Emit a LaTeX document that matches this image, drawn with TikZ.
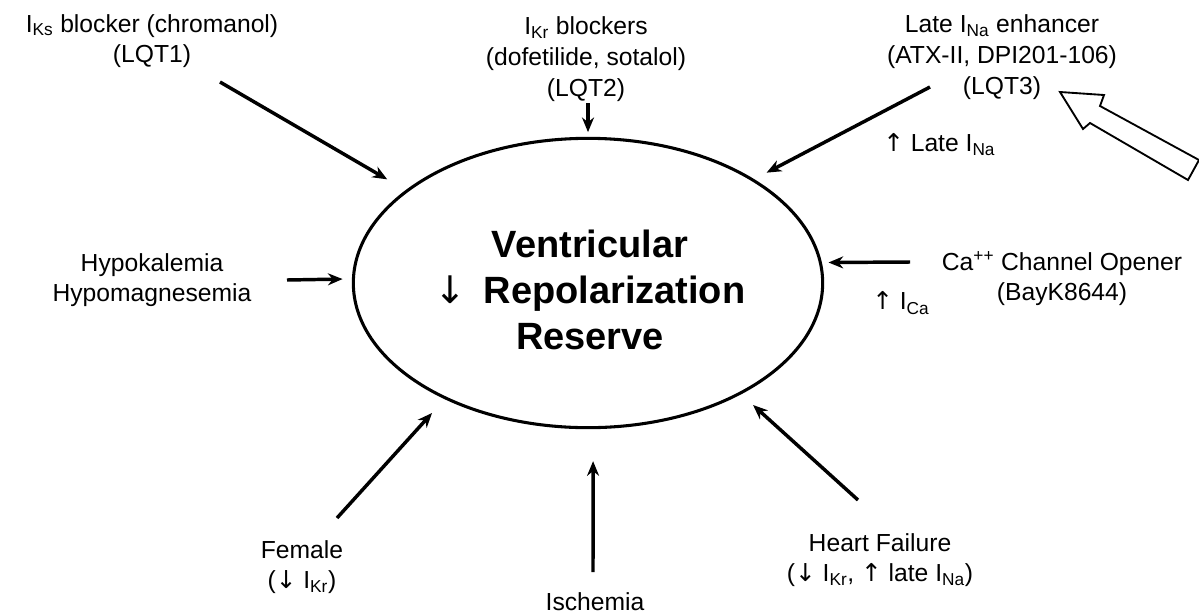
\documentclass[tikz,border=0pt]{standalone}
\usepackage{fontspec}
\setmainfont{Liberation Sans}
\newfontfamily\symfont{DejaVu Sans}
\usetikzlibrary{arrows.meta,shapes.geometric}
\newcommand{\dn}{{\symfont\mdseries\char"2193}}
\newcommand{\up}{{\symfont\mdseries\char"2191}}
\begin{document}
\begin{tikzpicture}[x=0.75pt,y=-0.75pt,
  lbl/.style={align=center,font=\fontsize{18.5}{23}\selectfont,inner sep=0pt},
  arr/.style={line width=2.6pt,-{Stealth[length=11pt,width=9pt]}},
  core/.style={ellipse,draw,line width=2.3pt,inner sep=0pt,minimum width=352pt,minimum height=217pt},
  title/.style={align=center,font=\fontsize{28.5}{34.5}\selectfont\bfseries,inner sep=0pt},
  hollow/.style={draw,line width=1.4pt,fill=white,line join=miter}
]
\useasboundingbox (0,0) rectangle (1199,615);

% central ellipse and its caption
\node[core] (core) at (588,283) {};
\node[title] (title) at (590,290) {Ventricular\\ \dn\hspace{0.45em}Repolarization\\ Reserve};

% surrounding factors
\node[lbl] (ks) at (152,41) {I\textsubscript{Ks} blocker (chromanol)\\(LQT1)};
\node[lbl] (kr) at (586,59) {I\textsubscript{Kr} blockers\\(dofetilide, sotalol)\\(LQT2)};
\node[lbl] (na) at (1002,57) {Late I\textsubscript{Na} enhancer\\(ATX-II, DPI201-106)\\(LQT3)};
\node[lbl,anchor=west] (latena) at (883,145) {\up\ Late I\textsubscript{Na}};
\node[lbl] (hypo) at (152,280) {Hypokalemia\\Hypomagnesemia};
\node[lbl] (ca) at (1062,279) {Ca\textsuperscript{++} Channel Opener\\(BayK8644)};
\node[lbl,anchor=west] (ica) at (872,303) {\up\ I\textsubscript{Ca}};
\node[lbl] (fem) at (302,567) {Female\\(\dn\ I\textsubscript{Kr})};
\node[lbl] (isch) at (595,602) {Ischemia};
\node[lbl] (hf) at (880,560) {Heart Failure\\(\dn\ I\textsubscript{Kr}, \up\ late I\textsubscript{Na})};

% arrow tails
\coordinate (t1) at (220,82);
\coordinate (t2) at (588,103);
\coordinate (t3) at (930,87);
\coordinate (t4) at (287,280);
\coordinate (t5) at (910,262);
\coordinate (t6) at (337,518);
\coordinate (t7) at (593,572);
\coordinate (t8) at (858,500);

\draw[arr,shorten >=16pt] (t1) -- (core.153);
\draw[arr,shorten >=3.5pt] (t2) -- (core.north);
\draw[arr,shorten >=10.5pt] (t3) -- (core.32);
\draw[arr,shorten >=7pt] (t4) -- (core.179);
\draw[arr,shorten >=5pt] (t5) -- (core.5);
\draw[arr,shorten >=14pt] (t6) -- (core.219);
\draw[arr,shorten >=24pt] (t7) -- (core.-88);
\draw[arr,shorten >=12pt] (t8) -- (core.-36);

% open block arrow pointing at the LQT3 label
\begin{scope}
\clip (0,0) rectangle (1199,615);
\draw[hollow] (1060,92) -- (1104,95) -- (1100,106) -- (1199,160)
  -- (1188,180) -- (1090,123) -- (1083,129) -- cycle;
\end{scope}
\end{tikzpicture}
\end{document}
